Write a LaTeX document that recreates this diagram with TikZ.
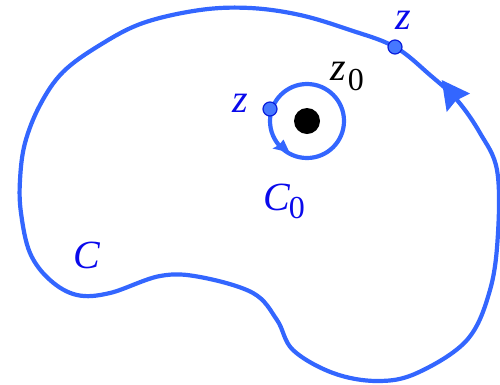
\documentclass[tikz,border=0pt]{standalone}
\usepackage{fontspec}
\setmainfont{Liberation Serif}
\definecolor{curveblue}{RGB}{51,102,255}
\definecolor{textblue}{RGB}{10,10,235}
\definecolor{ptfill}{RGB}{70,120,255}
\definecolor{ptedge}{RGB}{10,30,220}
\begin{document}
\begin{tikzpicture}[x=1pt,y=-1pt,
  curve/.style={draw=curveblue,line width=4.2pt,line join=round},
  arrowhead/.style={fill=curveblue,draw=none},
  pt/.style={circle,fill=ptfill,draw=ptedge,line width=1.2pt,minimum size=14pt,inner sep=0pt},
  dot/.style={circle,fill=black,minimum size=26pt,inner sep=0pt},
  lbl/.style={font=\fontsize{40}{40}\selectfont\itshape,inner sep=0pt,anchor=base west}]
\useasboundingbox (0,0) rectangle (500,384);
% outer contour C
\draw[curve] plot[smooth cycle, tension=0.6] coordinates {
 (395,47) (350,30) (300,15) (250,8) (200,10) (143,23) (100,45) (63,72)
 (40,105) (25,143) (20,180) (21,213) (30,253) (50,280) (77,295) (110,293)
 (160,276) (200,277) (253,293) (277,320) (293,350) (333,373) (377,381)
 (417,373) (467,340) (490,290) (498,233) (497,170) (480,133) (457,100) (430,75)};
% arrowhead on C
\fill[arrowhead] (441.7,80) -- (446.7,112) -- (456,100.5) -- (470,93.5) -- cycle;
% small circle C0
\node[dot] (zzero) at (307,121) {};
\draw[curve] (zzero.center) circle[radius=37pt];
\fill[arrowhead] (289.5,152.5) -- (272.5,148.5) -- (279,145) -- (283.5,139.5) -- cycle;
% points z
\node[pt] (zouter) at (395,47) {};
\node[pt] (zinner) at (270,109) {};
% labels
\node[lbl,text=textblue] (lzo) at (395,29) {z};
\node[lbl,text=textblue] (lzi) at (232,112) {z};
\node[lbl,text=black] (lz0) at (330,80) {z\kern2pt\raisebox{-10pt}{\fontsize{32}{32}\selectfont\upshape 0}};
\node[lbl,text=textblue] (lc0) at (263,210) {C\kern-1pt\raisebox{-8pt}{\fontsize{32}{32}\selectfont\upshape 0}};
\node[lbl,text=textblue] (lc) at (73,268) {C};
\end{tikzpicture}
\end{document}
